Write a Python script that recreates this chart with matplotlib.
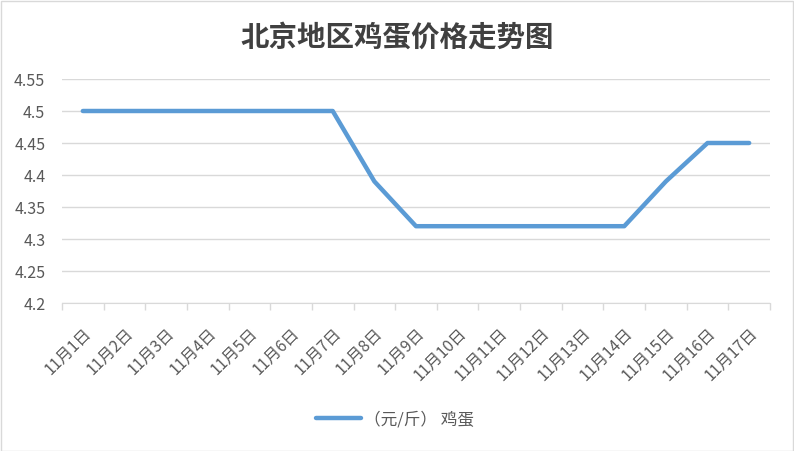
import matplotlib.pyplot as plt
from matplotlib.patches import Rectangle

plt.rcParams['font.family'] = ['Noto Sans CJK SC', 'DejaVu Sans']

dates = ['11月%d日' % d for d in range(1, 18)]
prices = [4.5, 4.5, 4.5, 4.5, 4.5, 4.5, 4.5, 4.39, 4.32, 4.32,
          4.32, 4.32, 4.32, 4.32, 4.39, 4.45, 4.45]
yticks = [4.2, 4.25, 4.3, 4.35, 4.4, 4.45, 4.5, 4.55]
ylabels = ['4.2', '4.25', '4.3', '4.35', '4.4', '4.45', '4.5', '4.55']

fig = plt.figure(figsize=(7.94, 4.52), dpi=100)
ax = fig.add_axes([62 / 794, 1 - 304 / 452, 708 / 794, 224 / 452])

x = list(range(len(dates)))
ax.plot(x, prices, color='#5b9bd5', lw=3.2, solid_capstyle='round',
        solid_joinstyle='round', label='（元/斤） 鸡蛋', zorder=3)

ax.set_xlim(-0.5, len(dates) - 0.5)
ax.set_ylim(4.2, 4.55)
ax.set_yticks(yticks)
ax.set_yticklabels(ylabels)
ax.grid(axis='y', color='#d9d9d9', lw=1)
ax.set_axisbelow(True)

ax.set_xticks([i - 0.5 for i in range(len(dates) + 1)])
ax.set_xticklabels([])
ax.set_xticks(x, minor=True)
ax.set_xticklabels(dates, minor=True, rotation=45, ha='right', va='top',
                   rotation_mode='anchor', fontsize=11.5, color='#595959')
ax.tick_params(axis='x', which='major', length=5, color='#d9d9d9', width=1)
ax.tick_params(axis='x', which='minor', length=0, pad=15)
ax.tick_params(axis='y', length=0, labelsize=11.5, labelcolor='#595959', pad=12)

for s in ['top', 'right', 'left']:
    ax.spines[s].set_visible(False)
ax.spines['bottom'].set_color('#d9d9d9')

fig.text(0.5, 1 - 38 / 452, '北京地区鸡蛋价格走势图', ha='center', va='center',
         fontsize=20.5, fontweight='bold', color='#404040')

leg = fig.legend(loc='center', bbox_to_anchor=(395 / 794, 1 - 420 / 452),
                 frameon=False, fontsize=12, handlelength=2.7, handletextpad=0.2)
for t in leg.get_texts():
    t.set_color('#595959')

fig.patches.append(Rectangle((0.5 / 794, 0.5 / 452), 792 / 794, 450 / 452,
                             transform=fig.transFigure, fill=False,
                             edgecolor='#d9d9d9', lw=1))

fig.savefig('out.png', dpi=100)
